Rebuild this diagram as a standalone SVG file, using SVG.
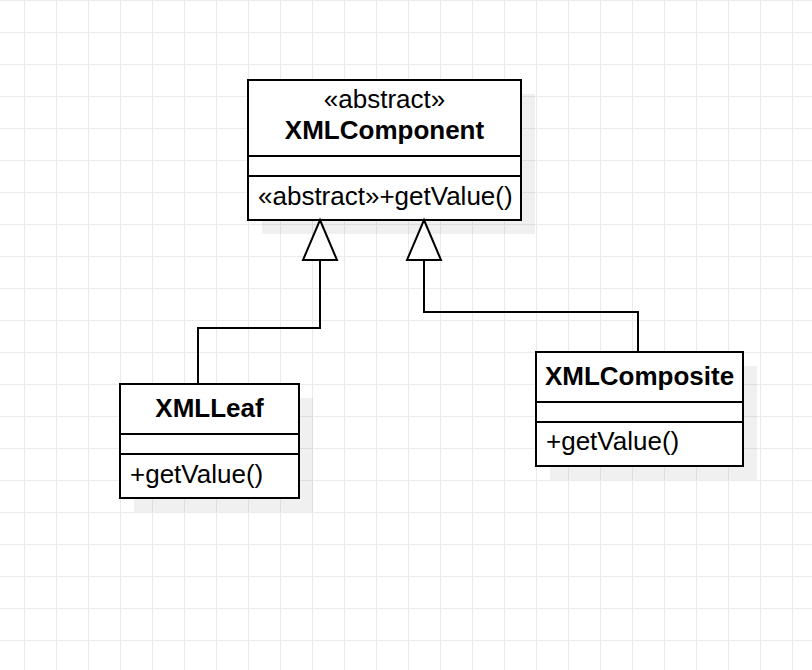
<svg xmlns="http://www.w3.org/2000/svg" width="812" height="670" viewBox="0 0 812 670">
<defs>
<pattern id="grid" x="24" y="0" width="32" height="32" patternUnits="userSpaceOnUse">
<path d="M0.5 0V32M0 0.5H32" fill="none" stroke="#ebebeb" stroke-width="1"/>
</pattern>
</defs>
<style>
.box{fill:#fff;stroke:#000;stroke-width:2}
.shadow{fill:#000;fill-opacity:0.06}
.div{stroke:#000;stroke-width:2}
.t{font-family:"Liberation Sans",Arial,sans-serif;font-size:26px;fill:#000}
.b{font-weight:bold}
.c{text-anchor:middle}
.edge{fill:none;stroke:#000;stroke-width:2}
.tri{fill:#fff;stroke:#000;stroke-width:2}
</style>
<rect width="812" height="670" fill="#fff"/>
<rect width="812" height="670" fill="url(#grid)"/>

<g id="XMLComponent">
<rect class="shadow" x="262" y="94" width="273" height="140"/>
<rect class="box" x="248" y="80" width="273" height="140"/>
<line class="div" x1="248" y1="156" x2="521" y2="156"/>
<line class="div" x1="248" y1="176" x2="521" y2="176"/>
<text class="t c" x="384.5" y="108">«abstract»</text>
<text class="t b c" x="384.5" y="139">XMLComponent</text>
<text class="t" x="258" y="205">«abstract»+getValue()</text>
</g>

<g id="XMLLeaf">
<rect class="shadow" x="134" y="398" width="179" height="114"/>
<rect class="box" x="120" y="384" width="179" height="114"/>
<line class="div" x1="120" y1="434" x2="299" y2="434"/>
<line class="div" x1="120" y1="454" x2="299" y2="454"/>
<text class="t b c" x="209.5" y="417">XMLLeaf</text>
<text class="t" x="130" y="483">+getValue()</text>
</g>

<g id="XMLComposite">
<rect class="shadow" x="550" y="366" width="207" height="114"/>
<rect class="box" x="536" y="352" width="207" height="114"/>
<line class="div" x1="536" y1="402" x2="743" y2="402"/>
<line class="div" x1="536" y1="422" x2="743" y2="422"/>
<text class="t b c" x="639.5" y="385">XMLComposite</text>
<text class="t" x="546" y="450">+getValue()</text>
</g>

<g id="connectors">
<path class="edge" d="M198 384V328H320V260"/>
<path class="edge" d="M638 352V312H424V260"/>
<path class="tri" d="M320 220L337 260H303Z"/>
<path class="tri" d="M424 220L441 260H407Z"/>
</g>
</svg>
